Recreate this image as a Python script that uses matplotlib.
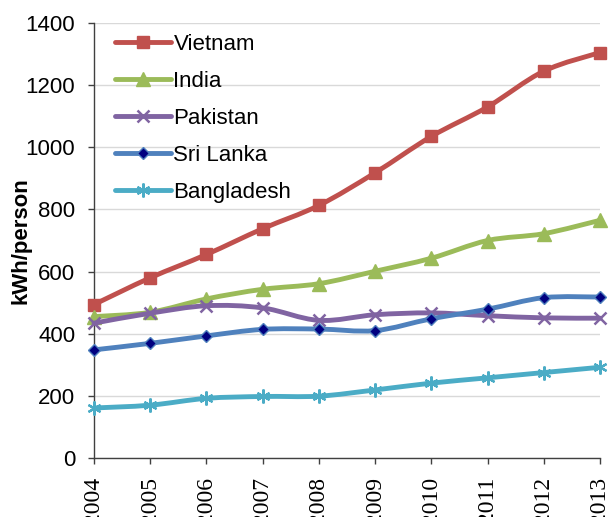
import matplotlib
matplotlib.use("Agg")
import matplotlib.pyplot as plt
import numpy as np
from matplotlib.path import Path
from matplotlib.patches import PathPatch
from matplotlib.lines import Line2D

years = [2004, 2005, 2006, 2007, 2008, 2009, 2010, 2011, 2012, 2013]
vietnam = [494, 580, 655, 738, 813, 918, 1035, 1130, 1245, 1305]
india = [455, 469, 512, 543, 561, 601, 643, 700, 722, 765]
pakistan = [434, 466, 490, 483, 443, 461, 467, 458, 451, 450]
sri_lanka = [348, 369, 393, 414, 415, 410, 448, 479, 516, 518]
bangladesh = [161, 170, 192, 198, 199, 219, 241, 258, 275, 292]

series = [
    ("Vietnam", vietnam, "#C0504D", dict(marker="s", ms=9, mfc="#C0504D", mec="#C0504D")),
    ("India", india, "#9BBB59", dict(marker="^", ms=9.5, mfc="#9BBB59", mec="#9BBB59")),
    ("Pakistan", pakistan, "#8064A2", dict(marker="x", ms=8.5, mew=1.8, mec="#8064A2")),
    ("Sri Lanka", sri_lanka, "#4F81BD", dict(marker="D", ms=6.5, mfc="#000080", mec="#4F81BD", mew=1.0)),
    ("Bangladesh", bangladesh, "#4BACC6", dict(marker=(6, 2, 0), ms=10, mew=1.6, mec="#4BACC6")),
]

FS = 16

fig = plt.figure(figsize=(6.09, 5.17), dpi=100)
ax = fig.add_axes([94/609, 1 - 458/517, (600 - 94)/609, (458 - 23)/517])


def smooth_path(x, y):
    x = np.asarray(x, float)
    y = np.asarray(y, float)
    n = len(x)
    verts = [(x[0], y[0])]
    codes = [Path.MOVETO]
    for i in range(n - 1):
        p0 = np.array([x[max(i - 1, 0)], y[max(i - 1, 0)]])
        p1 = np.array([x[i], y[i]])
        p2 = np.array([x[i + 1], y[i + 1]])
        p3 = np.array([x[min(i + 2, n - 1)], y[min(i + 2, n - 1)]])
        c1 = p1 + (p2 - p0) / 6.0
        c2 = p2 - (p3 - p1) / 6.0
        verts += [tuple(c1), tuple(c2), tuple(p2)]
        codes += [Path.CURVE4] * 3
    return Path(verts, codes)


handles = []
for i, (name, vals, color, mk) in enumerate(series):
    z = 3 + i
    patch = PathPatch(smooth_path(years, vals), facecolor="none", edgecolor=color,
                      lw=3.5, capstyle="round", joinstyle="round", zorder=z, clip_on=False)
    ax.add_patch(patch)
    ax.plot(years, vals, linestyle="none", zorder=z + 0.5, clip_on=False, **mk)
    handles.append(Line2D([], [], color=color, lw=3.5, solid_capstyle="round", **mk))

ax.set_xlim(2004, 2013)
ax.set_ylim(0, 1400)
ax.set_yticks(range(0, 1401, 200))
ax.set_xticks(years)
ax.set_xticklabels([str(y) for y in years], rotation=90, fontfamily="Liberation Serif", fontsize=17)
for lab in ax.get_yticklabels():
    lab.set_fontfamily("Liberation Sans")
    lab.set_fontsize(FS)

ax.grid(axis="y", color="#D9D9D9", lw=1.0, zorder=0)
ax.set_axisbelow(True)
for s in ["top", "right"]:
    ax.spines[s].set_visible(False)
for s in ["left", "bottom"]:
    ax.spines[s].set_color("#404040")
    ax.spines[s].set_linewidth(1.0)
ax.tick_params(axis="both", direction="out", length=4.5, width=1.0, color="#404040")
ax.tick_params(axis="x", pad=9)
ax.tick_params(axis="y", pad=9)

ax.set_ylabel("kWh/person", fontfamily="Liberation Sans", fontweight="bold", fontsize=FS)
ax.yaxis.set_label_coords(-0.1245, 0.5)

leg = ax.legend(handles, [s[0] for s in series], loc="upper left", bbox_to_anchor=(0.02, 1.0),
                frameon=False, prop={"family": "Liberation Sans", "size": FS},
                handlelength=2.5, handletextpad=0.12, labelspacing=0.72, borderaxespad=0.1)

fig.savefig("out.png", dpi=100)
